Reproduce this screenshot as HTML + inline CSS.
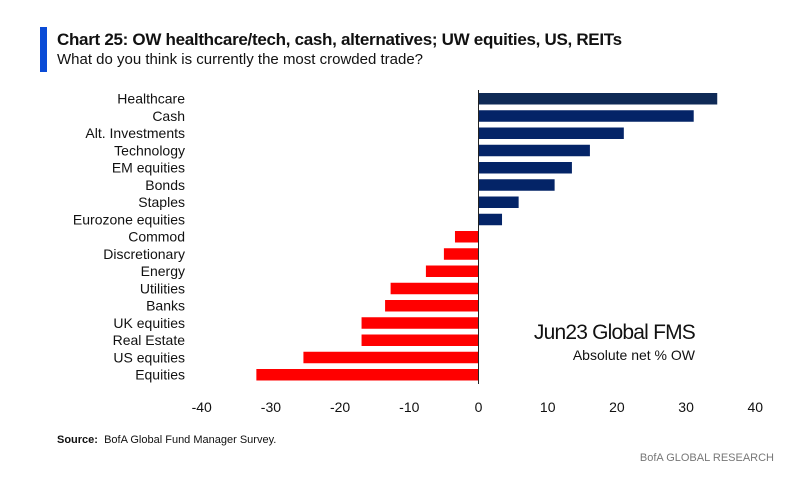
<!DOCTYPE html>
<html><head><meta charset="utf-8"><style>
body{margin:0;background:#fff;font-family:"Liberation Sans",sans-serif}
#c{position:relative;width:788px;height:481px;overflow:hidden}
</style></head><body>
<div id="c">
<div style="position:absolute;left:40px;top:27px;width:7px;height:45px;background:#0a4bd6"></div>
<div style="position:absolute;left:57px;top:30px;font-size:17px;font-weight:bold;color:#111;letter-spacing:-0.3px">Chart 25: OW healthcare/tech, cash, alternatives; UW equities, US, REITs</div>
<div style="position:absolute;left:57px;top:51px;font-size:15px;color:#111">What do you think is currently the most crowded trade?</div>
<svg id="s" width="788" height="481" style="position:absolute;left:0;top:0"></svg>
<div style="position:absolute;left:57px;top:434px;font-size:11px;color:#111"><b>Source:</b>&nbsp; BofA Global Fund Manager Survey.</div>
<div style="position:absolute;right:14px;top:452px;font-size:11px;color:#777">BofA GLOBAL RESEARCH</div>
</div>
<script>
const categories=["Healthcare","Cash","Alt. Investments","Technology","EM equities","Bonds","Staples","Eurozone equities","Commod","Discretionary","Energy","Utilities","Banks","UK equities","Real Estate","US equities","Equities"];
const values=[34.5,31.1,21,16.1,13.5,11,5.8,3.4,-3.4,-5,-7.6,-12.7,-13.5,-16.9,-16.9,-25.3,-32.1];
const ticks=[-40,-30,-20,-10,0,10,20,30,40];
const NS="http://www.w3.org/2000/svg";
const svg=document.getElementById('s');
const x=v=>478.5+v*6.92;
const y=i=>93+i*17.25;
function mk(t,a){const e=document.createElementNS(NS,t);for(const k in a)e.setAttribute(k,a[k]);svg.appendChild(e);return e;}
categories.forEach((c,i)=>{
  const v=values[i];
  const r=mk('rect',{x:Math.min(x(0),x(v)),y:y(i),width:Math.abs(x(v)-x(0)),height:11.5,fill:v>=0?(i==0?'#0f2a56':'#042467'):'#ff0000'});
  
  
  const t=mk('text',{x:185,y:y(i)+10.5,'text-anchor':'end','font-size':14,fill:'#111','font-family':'Liberation Sans, sans-serif'});
  t.textContent=c;
  
  
});
const ax=mk('line',{x1:x(0),x2:x(0),y1:90,y2:384,stroke:'#222','stroke-width':1});


ticks.forEach(v=>{
  const t=mk('text',{x:x(v),y:412,'text-anchor':'middle','font-size':14,fill:'#111','font-family':'Liberation Sans, sans-serif'});
  t.textContent=v;
  
  
});
const a1=mk('text',{x:695,y:339,'text-anchor':'end','font-size':21,fill:'#111','font-family':'Liberation Sans, sans-serif','letter-spacing':'-0.8'});
a1.textContent='Jun23 Global FMS';


const a2=mk('text',{x:695,y:360,'text-anchor':'end','font-size':14,fill:'#111','font-family':'Liberation Sans, sans-serif'});
a2.textContent='Absolute net % OW';


</script>
</body></html>
